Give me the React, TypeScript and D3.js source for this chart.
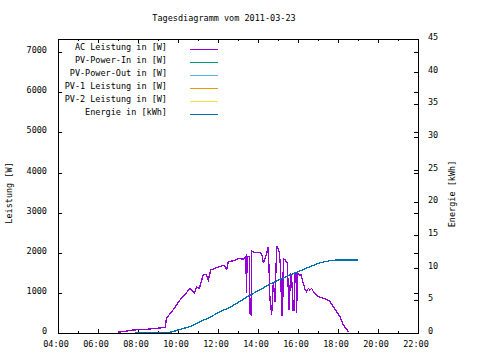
import React from 'react'
import * as d3 from 'd3'

// chart values
const acTimes = ['07:00','07:20','07:45','08:25','08:55','09:22','09:25','09:45','10:08','10:20','10:36','10:49','10:56','11:04','11:16','11:25','11:31','11:38','11:56','12:18','12:26','12:31','12:46','13:04','13:15','13:24','13:25','13:28','13:34','13:36','13:39','13:41','13:50','14:00','14:11','14:16','14:25','14:31','14:36','14:41','14:46','14:51','14:56','15:04','15:08','15:11','15:14','15:16','15:22','15:28','15:33','15:38','15:42','15:45','15:48','15:50','15:54','15:56','15:58','16:01','16:05','16:09','16:16','16:21','16:26','16:31','16:36','16:41','16:46','16:51','17:01','17:16','17:30','17:36','17:46','17:56','18:06','18:16','18:25','18:31']
const acValues = [20,40,75,90,117,140,365,573,847,950,1113,990,1150,1113,1462,1460,1320,1570,1627,1695,1587,1777,1800,1860,1840,1920,990,1900,1900,490,465,2043,2000,2010,1985,1737,1950,2150,822,450,1280,780,2168,2025,1570,450,450,1860,1820,1737,573,1490,1240,573,573,1490,1490,490,1490,1490,1445,1445,1240,1090,1030,1113,1070,1113,1030,990,905,865,822,780,655,530,406,200,100,32]

const energyTimes = ['07:50','09:30','09:51','10:06','10:36','11:06','11:36','12:06','12:36','13:06','13:36','14:06','14:36','15:06','15:36','16:06','16:36','17:06','17:36','17:56','19:00']
const energyValues = [0,0.05,0.3,0.56,0.97,1.73,2.4,3.27,3.93,4.85,5.8,6.6,7.5,8.2,8.9,9.5,10.15,10.76,11.07,11.17,11.17]

const legendLabels = ['AC Leistung in [W]','PV-Power-In in [W]','PV-Power-Out in [W]','PV-1 Leistung in [W]','PV-2 Leistung in [W]','Energie in [kWh]']
const legendColors = ['#9400d3','#009e73','#56b4e9','#e69f00','#f0e442','#0072b2']

const xTicks = d3.range(4, 23, 1)
const yTicks = d3.range(0, 7001, 1000)
const y2Ticks = d3.range(0, 46, 5)

const toHours = (s: string) => {
  const [h, m] = s.split(':').map(Number)
  return h + m / 60
}
const pad = (n: number) => (n < 10 ? '0' + n : '' + n)

const W = 480
const H = 360
const left = 58
const right = 418
const top = 39
const bottom = 333
const font = '"DejaVu Sans Mono", monospace'

const App: React.FC = () => {
  const x = d3.scaleLinear([4, 22], [left, right])
  const y = d3.scaleLinear([0, 7330], [bottom, top])
  const y2 = d3.scaleLinear([0, 45], [bottom, top])

  const acData = acTimes.map((t, i) => ({ t: toHours(t), v: acValues[i] }))
  const enData = energyTimes.map((t, i) => ({ t: toHours(t), v: energyValues[i] }))

  const acLine = d3.line<{ t: number; v: number }>().x(d => x(d.t)).y(d => y(d.v))
  const enLine = d3.line<{ t: number; v: number }>().x(d => x(d.t)).y(d => y2(d.v))

  const txt = { fontFamily: font, fontSize: 8.5, fill: '#000' }

  return (
    <svg width={W} height={H} style={{ position: 'absolute', left: 0, top: 0, background: '#fff' }}>
      <text x={224} y={21} textAnchor="middle" {...txt}>Tagesdiagramm vom 2011-03-23</text>

      {/* x ticks, bottom and mirrored at top */}
      {xTicks.map(h => {
        const major = h % 2 === 0
        const len = major ? 4 : 2
        const px = Math.round(x(h)) + 0.5
        return (
          <g key={'x' + h}>
            <line x1={px} x2={px} y1={bottom} y2={bottom - len} stroke="#000" />
            <line x1={px} x2={px} y1={top} y2={top + len} stroke="#000" />
            {major && (
              <text x={x(h) - 2} y={347} textAnchor="middle" {...txt}>{pad(h) + ':00'}</text>
            )}
          </g>
        )
      })}

      {/* left y ticks, mirrored on right */}
      {yTicks.map(v => {
        const py = Math.round(y(v)) + 0.5
        return (
          <g key={'y' + v}>
            <line x1={left} x2={left + 4} y1={py} y2={py} stroke="#000" />
            <line x1={right} x2={right - 4} y1={py} y2={py} stroke="#000" />
            <text x={47} y={y(v) + 1} textAnchor="end" {...txt}>{v}</text>
          </g>
        )
      })}

      {/* right y2 ticks */}
      {y2Ticks.map(v => {
        const py = Math.round(y2(v)) + 0.5
        return (
          <g key={'y2' + v}>
            <line x1={right} x2={right - 4} y1={py} y2={py} stroke="#000" />
            <text x={428} y={y2(v) + 1} {...txt}>{v}</text>
          </g>
        )
      })}

      <text transform="translate(12,193) rotate(-90)" textAnchor="middle" {...txt}>Leistung [W]</text>
      <text transform="translate(455,194) rotate(-90)" textAnchor="middle" {...txt}>Energie [kWh]</text>

      {/* legend */}
      {legendLabels.map((l, i) => (
        <g key={l}>
          <text x={167} y={50 + i * 13} textAnchor="end" {...txt}>{l}</text>
          <line x1={190} x2={218} y1={49.5 + i * 13} y2={49.5 + i * 13} stroke={legendColors[i]} strokeWidth={1} shapeRendering="crispEdges" />
        </g>
      ))}

      <path d={acLine(acData) ?? ''} fill="none" stroke={legendColors[0]} strokeWidth={1.3} shapeRendering="crispEdges" />
      <path d={enLine(enData) ?? ''} fill="none" stroke={legendColors[5]} strokeWidth={1.3} shapeRendering="crispEdges" />

      <rect x={left + 0.5} y={top + 0.5} width={right - left} height={bottom - top} fill="none" stroke="#000" strokeWidth={1} shapeRendering="crispEdges" />
    </svg>
  )
}

export default App
